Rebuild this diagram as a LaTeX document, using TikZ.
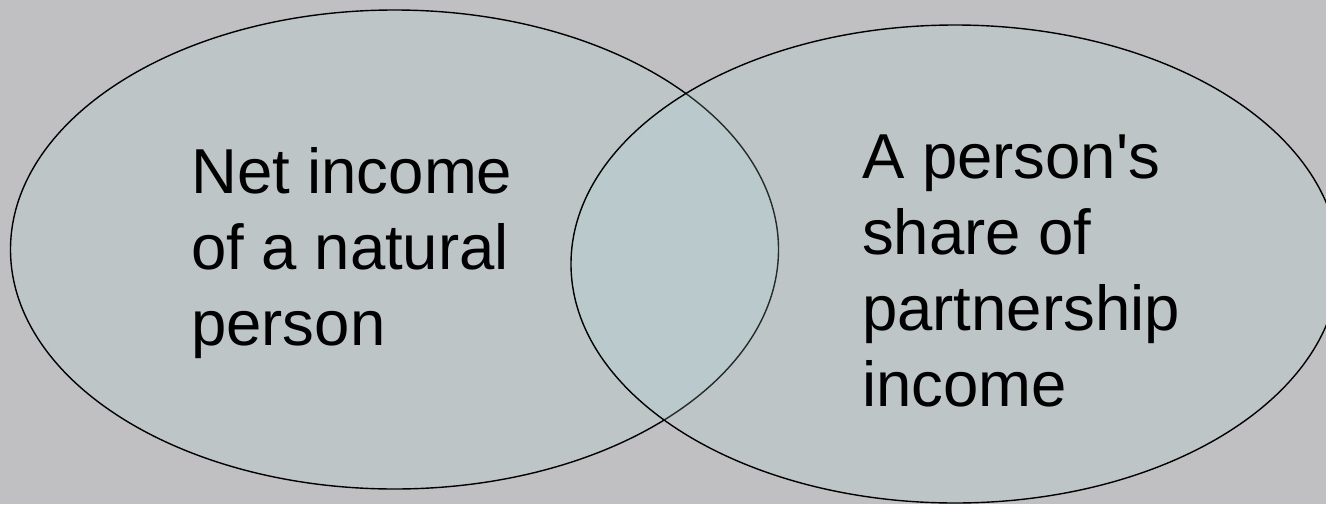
\documentclass[tikz,border=0pt]{standalone}
\usepackage{fontspec}
\newfontfamily\lblfont{Liberation Sans}
\usetikzlibrary{shapes.geometric}
\definecolor{bgcol}{RGB}{192,192,194}
\definecolor{vfill}{RGB}{177,217,219}
\tikzset{
  venn/.style={ellipse, draw=black, line width=1.4pt, fill=vfill, fill opacity=0.2,
    draw opacity=1, inner sep=0pt},
  lbl/.style={anchor=north west, inner sep=0pt, align=left, text=black,
    font=\lblfont\fontsize{63.5}{76}\selectfont}
}
\begin{document}
\begin{tikzpicture}[x=1pt,y=-1pt]
\useasboundingbox (0,0) rectangle (1326,504);
\fill[bgcol] (0,0) rectangle (1326,504);
\node[venn, minimum width=768pt, minimum height=479pt] (left) at (394.5,249.5) {};
\node[venn, minimum width=768pt, minimum height=478pt] (right) at (955,264) {};
\node[lbl] (ltext) at (191,139.8) {\strut Net income\\of a natural\\person};
\node[lbl] (rtext) at (862,124.8) {\strut A person's\\share of\\partnership\\income};
\end{tikzpicture}
\end{document}
